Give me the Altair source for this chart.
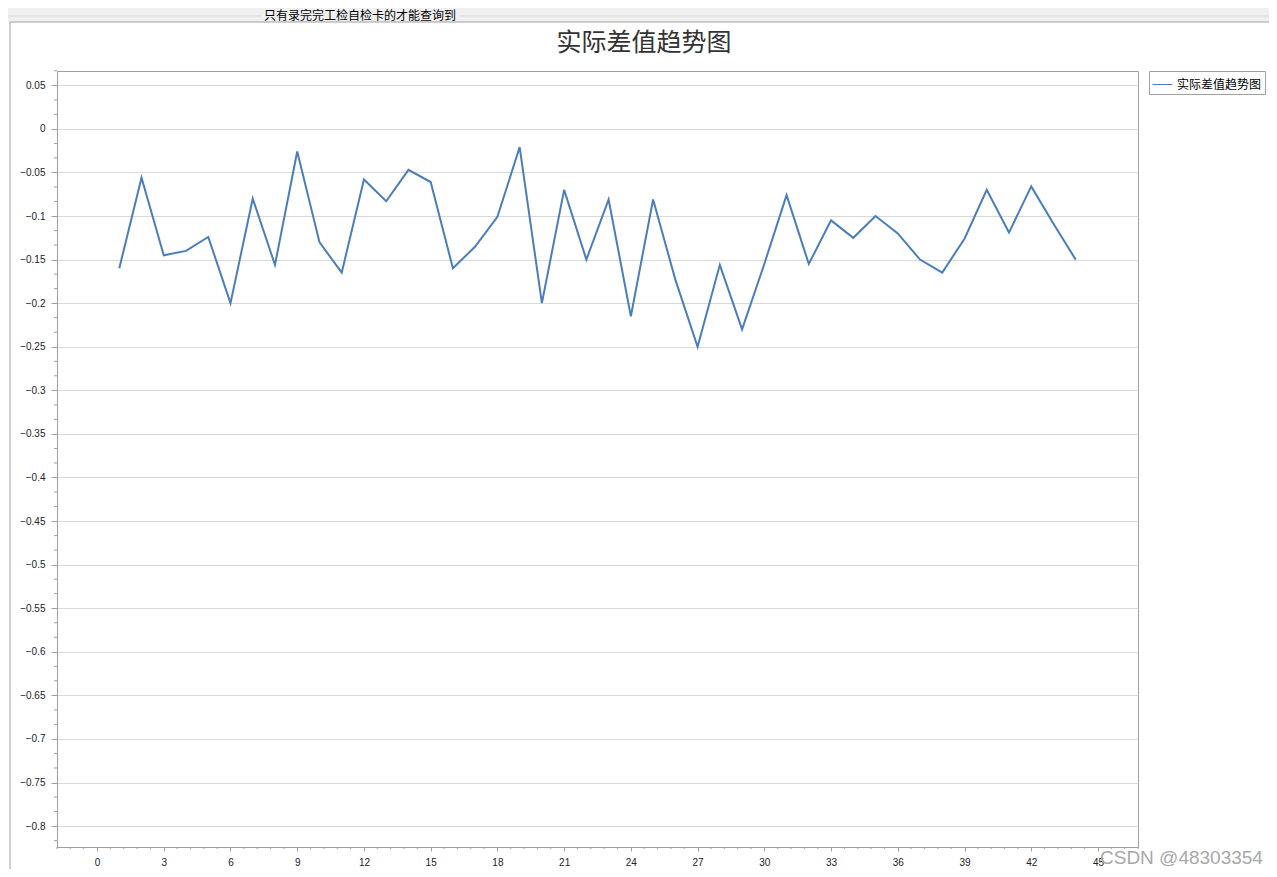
import altair as alt
import pandas as pd

# ---- data ----
idx = list(range(1, 45))
diff = [-0.160, -0.056, -0.145, -0.140, -0.124, -0.200, -0.080, -0.156, -0.026, -0.130,
        -0.165, -0.058, -0.083, -0.047, -0.061, -0.160, -0.135, -0.101, -0.021, -0.200,
        -0.070, -0.150, -0.081, -0.215, -0.081, -0.173, -0.250, -0.156, -0.230, -0.155,
        -0.076, -0.155, -0.105, -0.125, -0.100, -0.120, -0.150, -0.165, -0.126, -0.070,
        -0.119, -0.066, -0.109, -0.150]
series_name = "实际差值趋势图"
title_text = "实际差值趋势图"
top_label = "只有录完完工检自检卡的才能查询到"
watermark = "CSDN @48303354"

x_major = [0, 3, 6, 9, 12, 15, 18, 21, 24, 27, 30, 33, 36, 39, 42, 45]
y_major = [0.05, 0, -0.05, -0.1, -0.15, -0.2, -0.25, -0.3, -0.35, -0.4, -0.45, -0.5,
           -0.55, -0.6, -0.65, -0.7, -0.75, -0.8]
x_minor = [round(-1.8 + 0.6 * i, 2) for i in range(82) if (i % 5) != 3]
y_minor = [round(0.05 - k * 0.05 / 3, 4) for k in range(-1, 53) if k % 3 != 0]

W, H = 1081, 776
xscale = alt.Scale(domain=[-1.8, 46.8], nice=False, zero=False)
yscale = alt.Scale(domain=[-0.824, 0.0664], nice=False, zero=False)

x_axis = alt.Axis(values=x_major, title=None, grid=False, tickSize=4,
                  tickColor="#a0a0a0", domainColor="#a0a0a0",
                  labelFont="Liberation Sans", labelFontSize=10,
                  labelColor="#222222", labelPadding=6, labelFlush=False)
y_axis = alt.Axis(values=y_major, format="~g", title=None, grid=True,
                  gridColor="#d9d9d9", tickSize=6, tickColor="#a0a0a0",
                  domainColor="#a0a0a0", labelFont="Liberation Sans",
                  labelFontSize=10, labelColor="#222222", labelPadding=6)

df = pd.DataFrame({"x": idx, "y": diff, "series": [series_name] * len(idx)})
one = pd.DataFrame({"a": [0]})

line = alt.Chart(df).mark_line(strokeWidth=2, clip=True).encode(
    x=alt.X("x:Q", scale=xscale, axis=x_axis),
    y=alt.Y("y:Q", scale=yscale, axis=y_axis),
    color=alt.Color("series:N", scale=alt.Scale(range=["#4a7ebb"]),
                    legend=alt.Legend(title=None, orient="none", legendX=1092, legendY=0,
                                      strokeColor="#a0a0a0", fillColor="white",
                                      padding=3, symbolType="stroke", symbolSize=400,
                                      symbolStrokeWidth=1, labelFont="Noto Sans CJK SC",
                                      labelFontSize=12, labelColor="#000000",
                                      labelLimit=300, labelOffset=4)),
)

xminor = alt.Chart(pd.DataFrame({"mx": x_minor})).mark_rule(color="#a0a0a0").encode(
    x=alt.X("mx:Q", scale=xscale, axis=x_axis),
    y=alt.value(H), y2=alt.value(H + 2),
)
yminor = alt.Chart(pd.DataFrame({"my": y_minor})).mark_rule(color="#a0a0a0").encode(
    y=alt.Y("my:Q", scale=yscale, axis=y_axis),
    x=alt.value(-3), x2=alt.value(0),
)

top_strip = alt.Chart(one).mark_rect(color="#f0f0f0").encode(
    x=alt.value(-49), x2=alt.value(W + 131), y=alt.value(-63), y2=alt.value(-49))
group_line1 = alt.Chart(one).mark_rule(color="#d8d8d8").encode(
    x=alt.value(-49), x2=alt.value(204), y=alt.value(-55))
group_line2 = alt.Chart(one).mark_rule(color="#d8d8d8").encode(
    x=alt.value(403), x2=alt.value(W + 131), y=alt.value(-55))
panel = alt.Chart(one).mark_rect(fillOpacity=0, stroke="#a0a0a0", strokeWidth=1).encode(
    x=alt.value(-47), x2=alt.value(W + 140), y=alt.value(-49), y2=alt.value(H + 40))

label_top = alt.Chart(one).mark_text(
    text=top_label, font="Noto Sans CJK SC", fontSize=12, color="#000000",
    align="left", baseline="middle").encode(x=alt.value(207), y=alt.value(-55))
title = alt.Chart(one).mark_text(
    text=title_text, font="Noto Sans CJK SC", fontSize=25, color="#333333",
    align="center", baseline="middle").encode(x=alt.value(587), y=alt.value(-28))
wm = alt.Chart(one).mark_text(
    text=watermark, font="Liberation Sans", fontSize=19, color="#a8a8a8",
    align="left", baseline="middle").encode(x=alt.value(1043), y=alt.value(H + 11))

chart = alt.layer(
    top_strip, group_line1, group_line2, panel, label_top, title,
    line, xminor, yminor, wm
).properties(
    width=W, height=H,
    padding={"left": 49, "top": 63, "right": 131, "bottom": 22},
    autosize=alt.AutoSizeParams(type="none"),
).configure_view(stroke="#a0a0a0", strokeWidth=1)

chart.save("out.html", embed_options={"renderer": "svg", "actions": False})
